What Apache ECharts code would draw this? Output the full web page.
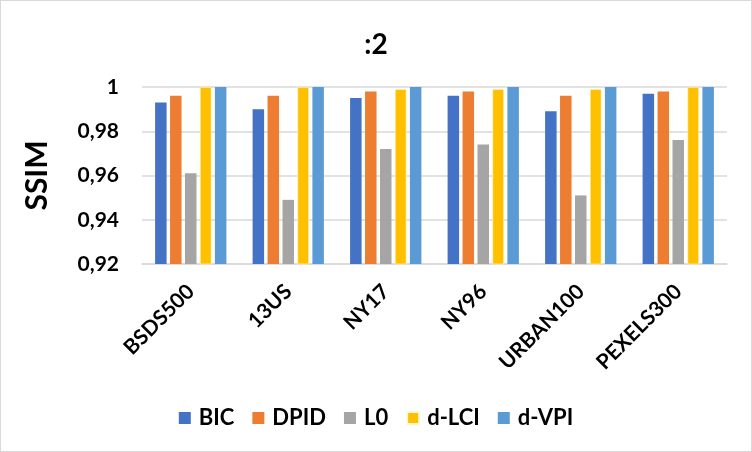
<!DOCTYPE html>
<html>
<head>
<meta charset="utf-8">
<script src="https://cdn.jsdelivr.net/npm/echarts@6/dist/echarts.min.js"></script>
<style>
html,body{margin:0;padding:0;background:#fff;}
#c{width:752px;height:452px;box-sizing:border-box;border:1px solid #d9d9d9;}
</style>
</head>
<body>
<div id="c"></div>
<script>
const categories = ['BSDS500', '13US', 'NY17', 'NY96', 'URBAN100', 'PEXELS300'];
const seriesNames = ['BIC', 'DPID', 'L0', 'd-LCI', 'd-VPI'];
const BIC   = [0.993, 0.990, 0.995, 0.996, 0.989, 0.997];
const DPID  = [0.996, 0.996, 0.998, 0.998, 0.996, 0.998];
const L0    = [0.961, 0.949, 0.972, 0.974, 0.951, 0.976];
const dLCI  = [1.000, 1.000, 0.999, 0.999, 0.999, 1.000];
const dVPI  = [1.000, 1.000, 1.000, 1.000, 1.000, 1.000];
const yTicks = { min: 0.92, max: 1, interval: 0.02 };
const titleText = ':2';
const yName = 'SSIM';

const colors = ['#4472C4', '#ED7D31', '#A5A5A5', '#FFC000', '#5B9BD5'];
const values = [BIC, DPID, L0, dLCI, dVPI];
const FONT = 'Lato';

const chart = echarts.init(document.getElementById('c'), null, {renderer: 'canvas'});
chart.setOption({
  animation: false,
  color: colors,
  title: {
    text: titleText, left: 'center', top: 25,
    textStyle: {fontFamily: FONT, fontWeight: 'bold', fontSize: 28, color: '#000'}
  },
  legend: {
    data: seriesNames, bottom: 17, left: 'center',
    icon: 'rect', itemWidth: 12, itemHeight: 12, itemGap: 18,
    textStyle: {fontFamily: FONT, fontWeight: 'bold', fontSize: 22, color: '#000', padding: [0, 0, 0, 3]}
  },
  grid: {left: 141, right: 24, top: 86, bottom: 187},
  xAxis: {
    type: 'category', data: categories,
    axisLine: {show: true, lineStyle: {color: '#d9d9d9', width: 1.5}},
    axisTick: {show: false},
    axisLabel: {
      rotate: 45, interval: 0, margin: 24,
      fontFamily: FONT, fontWeight: 'bold', fontSize: 21, color: '#000'
    }
  },
  yAxis: {
    type: 'value', min: yTicks.min, max: yTicks.max, interval: yTicks.interval,
    name: yName, nameLocation: 'middle', nameGap: 90, nameRotate: 90,
    nameTextStyle: {fontFamily: FONT, fontWeight: 'bold', fontSize: 30, color: '#000'},
    axisLine: {show: false}, axisTick: {show: false},
    splitLine: {lineStyle: {color: '#d9d9d9', width: 1.5}},
    axisLabel: {
      margin: 23, fontFamily: FONT, fontWeight: 'bold', fontSize: 21, color: '#000',
      formatter: v => (Math.abs(v - 1) < 1e-9 ? '1' : v.toFixed(2).replace('.', ','))
    }
  },
  series: seriesNames.map((n, i) => ({
    name: n, type: 'bar', data: values[i],
    barWidth: 11.5, barGap: '30%',
    itemStyle: i === 3 ? {borderColor: '#fff8d0', borderWidth: 0.6} : {}
  }))
});
</script>
</body>
</html>
